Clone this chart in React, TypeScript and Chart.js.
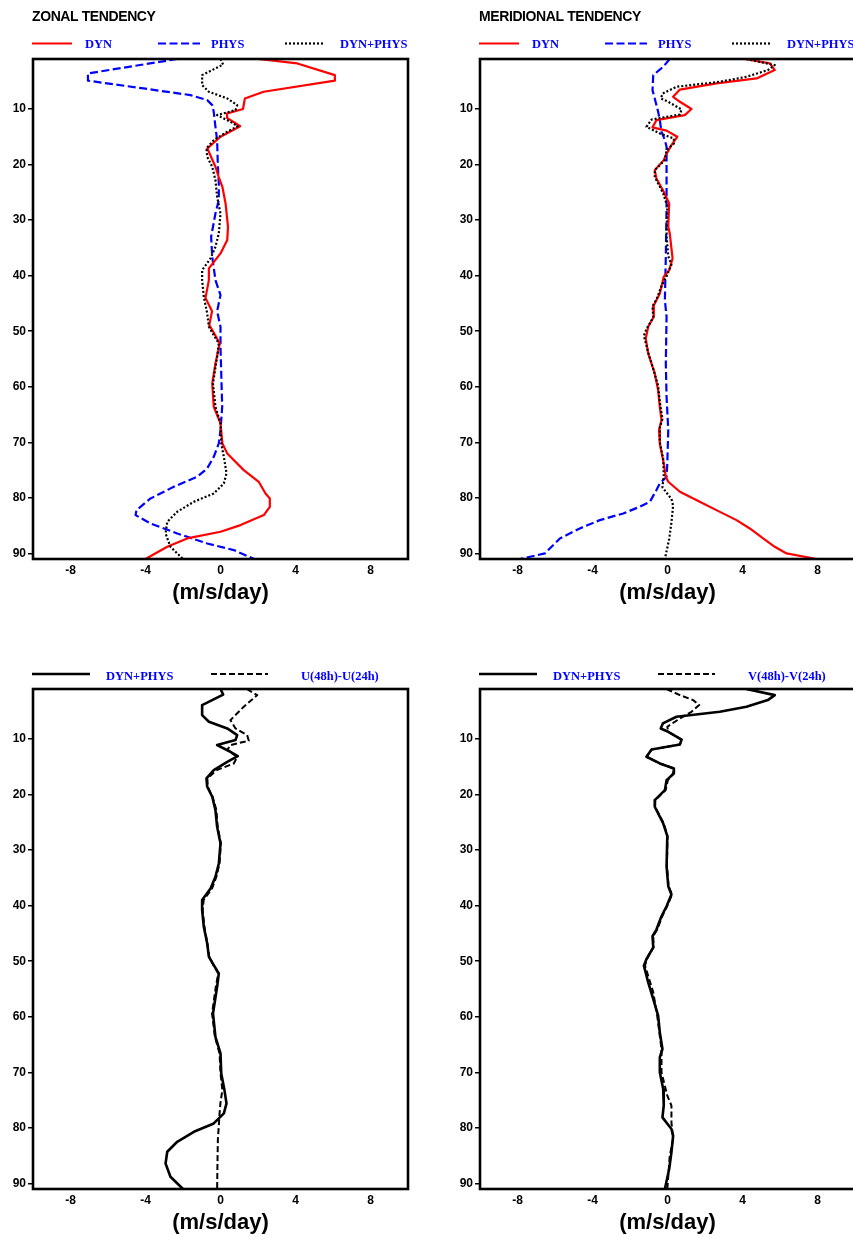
import React, { useEffect, useRef } from 'react';
import { Chart, registerables } from 'chart.js';

Chart.register(...registerables);

// ---------- axis ticks ----------
const xTicks = [-8, -4, 0, 4, 8];
const yTicks = [10, 20, 30, 40, 50, 60, 70, 80, 90];
const xAxisTitle = '(m/s/day)';

// ---------- ZONAL: DYN ----------
const uDynLev = [1, 1.8, 3.9, 4.9, 6.9, 8.1, 10, 10.8, 11.6, 13.1, 15, 17.1, 20.4, 22.2, 24, 27, 31.2, 33.6, 36, 38.7, 40.8, 44, 46.4, 48.9, 50, 52.2, 55.8, 59.4, 63.6, 66.6, 70.2, 72, 75, 77.1, 79.2, 80.1, 81.6, 83.1, 84.9, 86.1, 87.3, 88.8, 91];
const uDynVal = [2.0, 4.1, 6.1, 6.1, 2.3, 1.3, 1.2, 0.35, 0.35, 1.05, 0.0, -0.7, -0.27, -0.1, 0.1, 0.27, 0.4, 0.36, 0.0, -0.62, -0.62, -0.8, -0.45, -0.6, -0.4, -0.04, -0.27, -0.44, -0.36, 0.0, 0.1, 0.36, 1.24, 2.04, 2.4, 2.63, 2.63, 2.31, 1.07, 0.0, -1.78, -2.84, -4.0];

// ---------- ZONAL: PHYS ----------
const uPhysLev = [1, 3.6, 4.9, 6.3, 7.5, 8.4, 9.3, 10.5, 13.2, 15.6, 20.4, 23.4, 26.4, 28.8, 33, 36.6, 40.8, 43.5, 46.4, 49.2, 52.8, 58.8, 63.6, 67.8, 70.2, 72.6, 74.7, 76.2, 78, 80.1, 82.2, 83.1, 84.6, 86.4, 88.2, 89.4, 91];
const uPhysVal = [-2.3, -7.07, -7.07, -4.1, -1.6, -0.71, -0.44, -0.36, -0.27, -0.18, -0.14, -0.09, -0.09, -0.27, -0.5, -0.44, -0.27, 0.0, -0.18, 0.0, 0.0, 0.05, 0.09, 0.0, -0.09, -0.36, -0.71, -1.24, -2.49, -3.73, -4.48, -4.53, -3.73, -2.31, -0.71, 0.71, 1.8];

// ---------- ZONAL: DYN+PHYS ----------
const uSumLev = [1, 2, 3.9, 5.7, 6.9, 8.1, 9.3, 10.2, 11.1, 12.3, 13.1, 14.1, 15.6, 17.1, 18.6, 20.4, 22.8, 25.8, 28.8, 32.4, 34.8, 36.9, 39, 40.8, 43.8, 46.8, 49.2, 50.7, 52.2, 54.6, 59.4, 63.6, 66.6, 70.2, 73.2, 75.6, 77.4, 79.2, 80.7, 82.5, 84.3, 86.4, 88.8, 91];
const uSumVal = [0, 0.14, -0.98, -0.98, -0.62, 0.36, 0.89, 0.8, -0.18, 0.53, 0.92, 0.36, -0.36, -0.75, -0.71, -0.44, -0.27, -0.18, 0, -0.09, -0.27, -0.53, -0.98, -0.98, -0.89, -0.71, -0.62, -0.36, -0.09, -0.18, -0.4, -0.27, 0, 0.04, 0.21, 0.32, 0.18, -0.36, -1.42, -2.31, -2.84, -2.93, -2.67, -2.0];

// ---------- ZONAL: U(48h)-U(24h) ----------
const uTrueLev = [1, 2.1, 4.2, 6.6, 8.1, 9.3, 10.3, 11.1, 12, 13.2, 14.4, 15.6, 17.1, 18.6, 20.4, 22.8, 25.8, 28.8, 32.4, 34.8, 36.9, 39, 40.8, 43.8, 46.8, 49.2, 50.7, 52.2, 54.6, 59.4, 63.6, 66.6, 70.2, 73.2, 75.4, 77.4, 79.6, 82, 86, 91];
const uTrueVal = [1.4, 1.96, 1.24, 0.53, 0.8, 1.42, 1.51, 0.53, 0.36, 0.89, 0.71, -0.2, -0.7, -0.68, -0.42, -0.22, -0.15, 0.02, -0.05, -0.22, -0.45, -0.9, -0.95, -0.86, -0.7, -0.6, -0.38, -0.12, -0.25, -0.45, -0.3, -0.05, 0, 0.1, 0, -0.05, -0.09, -0.14, -0.16, -0.18];

// ---------- MERIDIONAL: DYN ----------
const vDynLev = [1, 1.8, 3, 4.5, 5.4, 6.5, 7.8, 8.7, 10, 11.1, 12, 13.3, 13.9, 15, 16.5, 18.3, 19.2, 21, 22.5, 24.9, 27, 31.2, 32.4, 36.9, 39, 40.2, 43.2, 45.6, 47.4, 49.2, 51.3, 54, 57.6, 60.6, 63.6, 66, 67.8, 70.2, 73.8, 76.2, 77.1, 78.9, 80.7, 82.2, 84, 85.5, 87.3, 88.8, 90, 91];
const vDynVal = [4.12, 5.46, 5.72, 4.75, 2.61, 0.66, 0.3, 0.66, 1.28, 0.92, -0.59, -0.8, -0.05, 0.52, 0.21, -0.09, -0.2, -0.68, -0.59, -0.2, 0.09, 0.04, 0.12, 0.27, 0.09, -0.2, -0.41, -0.77, -0.73, -1.03, -1.16, -1.03, -0.68, -0.5, -0.41, -0.32, -0.45, -0.41, -0.2, -0.09, 0.04, 0.66, 1.72, 2.61, 3.68, 4.39, 5.1, 5.72, 6.35, 7.95];

// ---------- MERIDIONAL: PHYS ----------
const vPhysLev = [1, 2.4, 3.9, 6.6, 8.1, 10.5, 12, 14.1, 15.6, 16.8, 27.6, 36.6, 44.4, 47.4, 55.8, 61.8, 67.8, 73.8, 76.2, 77.4, 78.6, 80.7, 81.6, 82.8, 84, 85.5, 87.3, 90, 91];
const vPhysVal = [0.12, -0.23, -0.76, -0.8, -0.68, -0.5, -0.41, -0.32, -0.14, -0.05, -0.05, -0.09, -0.14, -0.05, -0.09, -0.05, 0.04, -0.01, -0.05, -0.41, -0.59, -0.94, -1.48, -2.36, -3.61, -4.68, -5.74, -6.54, -7.88];

// ---------- MERIDIONAL: DYN+PHYS ----------
const vSumLev = [1, 2.1, 3, 4.2, 5.1, 6, 7.2, 8.1, 8.7, 10.1, 11, 11.9, 13.2, 14.4, 15.3, 16.2, 17.4, 19.2, 21, 22.2, 25.2, 27.5, 32.9, 36.5, 38, 40.1, 41.9, 44.3, 45.5, 47.5, 49.6, 50.8, 53.8, 56.8, 59.8, 62.8, 65.8, 67.3, 70, 73, 76, 78.1, 80.2, 81.4, 84.4, 87.4, 91];
const vSumVal = [4.2, 5.72, 5.35, 4.21, 2.79, 0.48, -0.25, -0.36, 0.04, 0.75, 0.66, -0.85, -1.12, -0.41, 0.34, 0.34, -0.05, -0.14, -0.68, -0.68, -0.23, -0.01, -0.05, 0.04, 0.21, -0.05, -0.32, -0.59, -0.8, -0.76, -1.12, -1.26, -1.03, -0.76, -0.5, -0.41, -0.27, -0.41, -0.41, -0.23, -0.2, -0.27, 0.21, 0.3, 0.21, 0.09, -0.14];

// ---------- MERIDIONAL: V(48h)-V(24h) ----------
const vTrueLev = [1, 2.1, 3, 3.9, 5.1, 6.3, 7.8, 8.7, 10.1, 11, 11.9, 13.2, 14.4, 15.3, 16.2, 17.4, 19.2, 21, 22.2, 25.2, 27.5, 32.9, 36.5, 38, 40.1, 41.9, 44.3, 45.5, 47.5, 49.6, 50.8, 55.6, 59.8, 65.8, 70, 74.2, 76, 79, 82, 85, 91];
const vTrueVal = [-0.05, 0.66, 1.37, 1.69, 1.28, 0.66, -0.01, 0.04, 0.75, 0.66, -0.85, -1.12, -0.41, 0.34, 0.3, 0.02, -0.1, -0.65, -0.66, -0.2, 0.0, -0.03, 0.06, 0.24, -0.02, -0.28, -0.55, -0.76, -0.74, -1.1, -1.2, -0.76, -0.55, -0.32, -0.32, -0.01, 0.21, 0.21, 0.3, 0.12, -0.01];

// ---------- styles ----------
const RED = '#ff0000';
const BLUE = '#0000ff';
const BLACK = '#000000';
const SANS = '"Liberation Sans", Arial, sans-serif';
const SERIF = '"Liberation Serif", "Times New Roman", serif';

type Series = {
  label: string;
  lev: number[];
  val: number[];
  color: string;
  width: number;
  dash: number[];
  order: number;
};

type LegendSlot = [number, number, number]; // line from, line to, text x (relative to chart left)

type PanelSpec = {
  left: number;
  top: number;
  title?: string;
  series: Series[];
  slots: LegendSlot[];
  legendLineY: number;
  legendTextY: number;
};

const topSlots: LegendSlot[] = [[-1, 39, 52], [125, 167, 178], [252, 291, 307]];
const bottomSlots: LegendSlot[] = [[-1, 57, 73], [178, 235, 268]];

const panels: PanelSpec[] = [
  {
    left: 0, top: 0, title: 'ZONAL TENDENCY', slots: topSlots, legendLineY: 43.5, legendTextY: 48.3,
    series: [
      { label: 'DYN', lev: uDynLev, val: uDynVal, color: RED, width: 2.2, dash: [], order: 2 },
      { label: 'PHYS', lev: uPhysLev, val: uPhysVal, color: BLUE, width: 2.2, dash: [8, 3.5], order: 3 },
      { label: 'DYN+PHYS', lev: uSumLev, val: uSumVal, color: BLACK, width: 2.2, dash: [2, 2], order: 1 },
    ],
  },
  {
    left: 447, top: 0, title: 'MERIDIONAL TENDENCY', slots: topSlots, legendLineY: 43.5, legendTextY: 48.3,
    series: [
      { label: 'DYN', lev: vDynLev, val: vDynVal, color: RED, width: 2.2, dash: [], order: 2 },
      { label: 'PHYS', lev: vPhysLev, val: vPhysVal, color: BLUE, width: 2.2, dash: [8, 3.5], order: 3 },
      { label: 'DYN+PHYS', lev: vSumLev, val: vSumVal, color: BLACK, width: 2.2, dash: [2, 2], order: 1 },
    ],
  },
  {
    left: 0, top: 630, slots: bottomSlots, legendLineY: 44, legendTextY: 50,
    series: [
      { label: 'DYN+PHYS', lev: uSumLev, val: uSumVal, color: BLACK, width: 2.6, dash: [], order: 2 },
      { label: 'U(48h)-U(24h)', lev: uTrueLev, val: uTrueVal, color: BLACK, width: 2, dash: [6, 3], order: 1 },
    ],
  },
  {
    left: 447, top: 630, slots: bottomSlots, legendLineY: 44, legendTextY: 50,
    series: [
      { label: 'DYN+PHYS', lev: vSumLev, val: vSumVal, color: BLACK, width: 2.6, dash: [], order: 2 },
      { label: 'V(48h)-V(24h)', lev: vTrueLev, val: vTrueVal, color: BLACK, width: 2, dash: [6, 3], order: 1 },
    ],
  },
];

const CW = 426;
const CH = 620;

function toPoints(lev: number[], val: number[]) {
  return lev.map((l, i) => ({ x: val[i], y: l }));
}

function Panel({ spec }: { spec: PanelSpec }) {
  const ref = useRef<HTMLCanvasElement>(null);

  useEffect(() => {
    const canvas = ref.current;
    if (!canvas) return;

    const framePlugin = {
      id: 'frameAndLegend',
      afterDraw(chart: any) {
        const ctx = chart.ctx as CanvasRenderingContext2D;
        const { left, top, right, bottom } = chart.chartArea;
        ctx.save();
        // frame
        ctx.setLineDash([]);
        ctx.lineWidth = 2.6;
        ctx.strokeStyle = BLACK;
        ctx.strokeRect(left, top, right - left, bottom - top);
        // title
        if (spec.title) {
          ctx.fillStyle = BLACK;
          ctx.font = `bold 14px ${SANS}`;
          (ctx as any).letterSpacing = '-0.4px';
          ctx.textAlign = 'left';
          ctx.textBaseline = 'alphabetic';
          ctx.fillText(spec.title, left - 1, 20.7);
          (ctx as any).letterSpacing = '0px';
        }
        // legend
        spec.series.forEach((s, i) => {
          const slot = spec.slots[i];
          if (!slot) return;
          ctx.beginPath();
          ctx.setLineDash(s.dash);
          ctx.lineWidth = s.width;
          ctx.strokeStyle = s.color;
          ctx.lineCap = 'butt';
          ctx.moveTo(left + slot[0], spec.legendLineY);
          ctx.lineTo(left + slot[1], spec.legendLineY);
          ctx.stroke();
          ctx.setLineDash([]);
          ctx.fillStyle = BLUE;
          ctx.font = `bold 12.5px ${SERIF}`;
          ctx.textAlign = 'left';
          ctx.textBaseline = 'alphabetic';
          ctx.fillText(s.label, left + slot[2], spec.legendTextY);
        });
        ctx.restore();
      },
    };

    const chart = new Chart(canvas, {
      type: 'line',
      data: {
        datasets: spec.series.map((s) => ({
          label: s.label,
          data: toPoints(s.lev, s.val),
          borderColor: s.color,
          backgroundColor: s.color,
          borderWidth: s.width,
          borderDash: s.dash,
          borderCapStyle: 'butt',
          borderJoinStyle: 'round',
          pointRadius: 0,
          pointHoverRadius: 0,
          fill: false,
          tension: 0,
          order: s.order,
        })),
      },
      options: {
        animation: false,
        responsive: false,
        maintainAspectRatio: false,
        devicePixelRatio: 1,
        events: [],
        layout: { padding: { top: 59, right: 18, left: 0, bottom: 0 } },
        plugins: {
          legend: { display: false },
          title: { display: false },
          tooltip: { enabled: false },
        },
        scales: {
          x: {
            type: 'linear',
            min: -10,
            max: 10,
            afterFit: (scale: any) => { scale.height = 61; },
            afterBuildTicks: (scale: any) => { scale.ticks = xTicks.map((v) => ({ value: v })); },
            grid: { display: false, drawTicks: false },
            border: { display: false },
            ticks: {
              padding: 4,
              color: BLACK,
              autoSkip: false,
              maxRotation: 0,
              font: { family: SANS, size: 12, weight: 'bold' },
            },
            title: {
              display: true,
              text: xAxisTitle,
              color: BLACK,
              font: { family: SANS, size: 22, weight: 'bold' },
              padding: { top: 0, bottom: 14 },
            },
          },
          y: {
            type: 'linear',
            reverse: true,
            min: 1,
            max: 91,
            afterFit: (scale: any) => { scale.width = 33; },
            afterBuildTicks: (scale: any) => { scale.ticks = yTicks.map((v) => ({ value: v })); },
            grid: { drawOnChartArea: false, drawTicks: true, tickLength: 5, color: BLACK, lineWidth: 1.5 },
            border: { display: false },
            ticks: {
              padding: 2,
              color: BLACK,
              autoSkip: false,
              font: { family: SANS, size: 12, weight: 'bold' },
            },
          },
        },
      } as any,
      plugins: [framePlugin],
    });

    return () => chart.destroy();
  }, [spec]);

  return (
    <canvas
      ref={ref}
      width={CW}
      height={CH}
      style={{ position: 'absolute', left: spec.left, top: spec.top, width: CW, height: CH }}
    />
  );
}

export default function App() {
  return (
    <div
      style={{
        position: 'absolute',
        left: 0,
        top: 0,
        width: 853,
        height: 1237,
        overflow: 'hidden',
        background: '#ffffff',
      }}
    >
      {panels.map((p, i) => (
        <Panel key={i} spec={p} />
      ))}
    </div>
  );
}
